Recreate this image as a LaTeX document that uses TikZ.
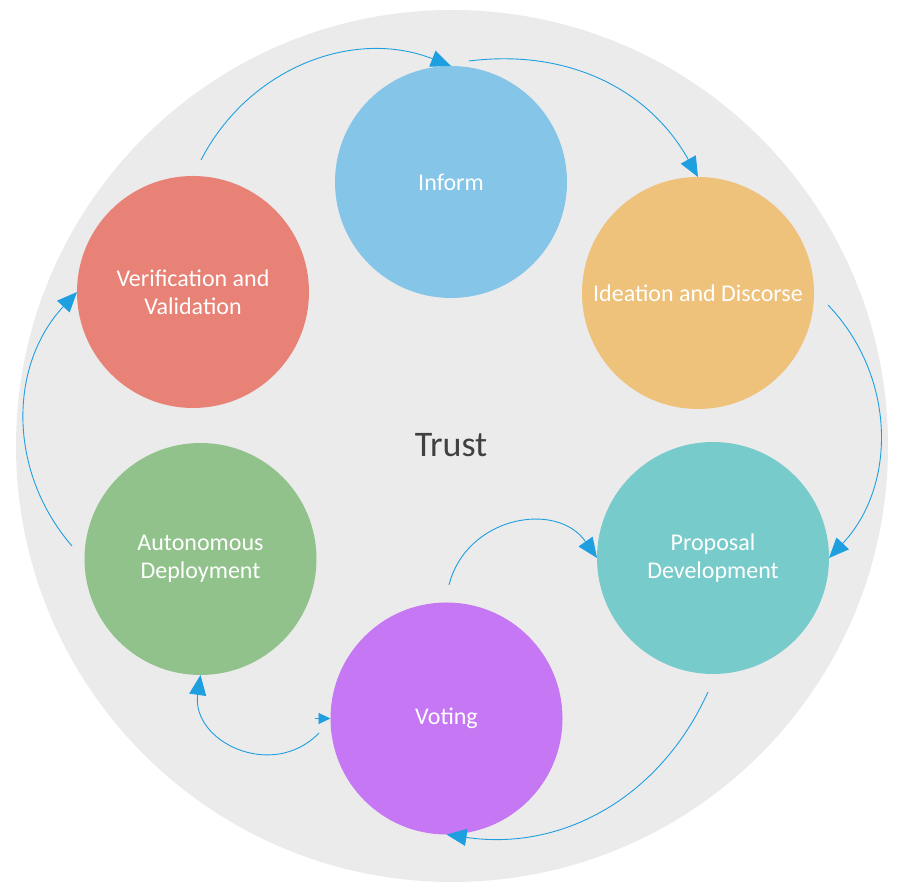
\documentclass[tikz,border=0pt]{standalone}
\usepackage{fontspec}
\setmainfont{Carlito}
\usetikzlibrary{arrows.meta,calc}
\definecolor{bgc}{HTML}{EBEBEB}
\definecolor{infc}{HTML}{84C5E8}
\definecolor{idec}{HTML}{EEC27A}
\definecolor{proc}{HTML}{77CBCA}
\definecolor{votc}{HTML}{C677F4}
\definecolor{autc}{HTML}{91C28C}
\definecolor{verc}{HTML}{E88176}
\definecolor{arrc}{HTML}{1E9FE0}
\definecolor{trustc}{HTML}{404040}
\begin{document}
\begin{tikzpicture}[x=1pt,y=1pt,
  stage/.style={circle,minimum size=232pt,inner sep=0pt,outer sep=0pt,text=white,align=center,font=\fontsize{24}{28}\selectfont},
  flow/.style={draw=arrc,line width=0.9pt,-{Triangle[length=20pt,width=17pt]}},
  smallflow/.style={draw=arrc,line width=0.9pt,-{Triangle[length=12pt,width=11pt]}}]
\useasboundingbox (0,0) rectangle (901,893);
\fill[bgc] (452,447) circle (436);
\node[font=\fontsize{36}{40}\selectfont,text=trustc] (trust) at (451,448) {Trust};
\node[stage,fill=infc] (inf) at (451,711) {Inform};
\node[stage,fill=idec] (ide) at (698,600) {Ideation and Discorse};
\node[stage,fill=proc] (pro) at (713,335) {Proposal\\Development};
\node[stage,fill=votc] (vot) at (446.5,174.5) {Voting};
\node[stage,fill=autc] (aut) at (200.5,334) {Autonomous\\Deployment};
\node[stage,fill=verc] (ver) at (193,601) {Verification and\\Validation};
\coordinate (s1) at (201,733);
\coordinate (s2) at (469,832);
\coordinate (s3) at (828,588);
\coordinate (s4) at (708,201);
\coordinate (s5) at (449,308);
\coordinate (s6) at (319,160);
\coordinate (s6b) at ($(vot.west)+(-16,0)$);
\coordinate (s7) at (72,347);
\draw[flow] (s1) to[bend left=42] (inf.north);
\draw[flow] (s2) to[bend left=34] (ide.north);
\draw[flow] (s3) to[bend left=43.5] (pro.east);
\draw[flow] (s4) to[bend left=37] (vot.south);
\draw[flow] (s5) to[bend left=65.5,looseness=1.2] (pro.west);
\draw[flow] (s6) to[bend left=72,looseness=1.3] (aut.south);
\draw[smallflow] (s6b) -- (vot.west);
\draw[flow] (s7) to[bend left=42] (ver.west);
\end{tikzpicture}
\end{document}
